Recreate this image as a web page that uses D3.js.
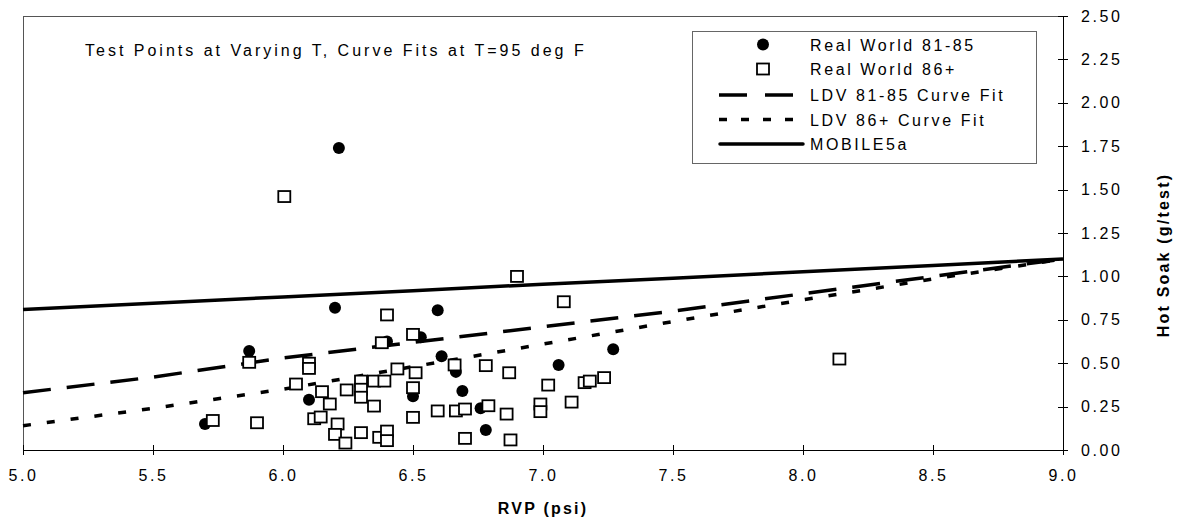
<!DOCTYPE html>
<html lang="en">
<head>
<meta charset="UTF-8">
<title>Hot Soak vs RVP</title>
<script src="https://d3js.org/d3.v7.min.js"></script>
<style>
    body { margin: 0; background: #fff; }
    svg { display: block; }
    text { font-family: "Liberation Sans", Arial, sans-serif; fill: #000; }
    .axis path, .axis line { fill: none; stroke: #000; stroke-width: 1; shape-rendering: crispEdges; }
    .axis text { font-size: 16px; letter-spacing: 2.6px; }
    .title { font-weight: bold; font-size: 16px; letter-spacing: 2.2px; }
</style>
</head>
<body>
<svg width="1177" height="527"></svg>
<script>
// real world 81-85 (filled circles)
const circleRvp  = [5.70, 5.87, 6.10, 6.20, 6.215, 6.40, 6.50, 6.53, 6.595, 6.61, 6.665, 6.69, 6.76, 6.78, 7.06, 7.27];
const circleSoak = [0.15, 0.57, 0.29, 0.82, 1.74, 0.625, 0.31, 0.65, 0.805, 0.54, 0.45, 0.34, 0.24, 0.115, 0.49, 0.58];

// real world 86+ (open squares)
const squareRvp  = [5.73, 5.87, 5.90, 6.005, 6.05, 6.10, 6.10, 6.12, 6.145, 6.15, 6.18, 6.21, 6.20, 6.24, 6.245,
                    6.30, 6.30, 6.30, 6.30, 6.35, 6.35, 6.37, 6.38, 6.39, 6.40, 6.40, 6.40, 6.44, 6.50, 6.51,
                    6.50, 6.50, 6.595, 6.66, 6.665, 6.70, 6.70, 6.78, 6.79, 6.86, 6.87, 6.875, 6.90, 6.99, 6.99,
                    7.02, 7.08, 7.11, 7.16, 7.18, 7.235, 8.14];
const squareSoak = [0.17, 0.505, 0.157, 1.46, 0.38, 0.50, 0.47, 0.18, 0.19, 0.336, 0.265, 0.15, 0.09, 0.04, 0.346,
                    0.397, 0.35, 0.304, 0.10, 0.397, 0.253, 0.073, 0.618, 0.397, 0.778, 0.109, 0.054, 0.467, 0.666, 0.445,
                    0.359, 0.188, 0.225, 0.49, 0.225, 0.236, 0.067, 0.486, 0.255, 0.207, 0.445, 0.058, 1.00, 0.265, 0.221,
                    0.374, 0.854, 0.276, 0.388, 0.397, 0.417, 0.524];

// curve fits at T=95 deg F
const curveRvp = [5.0, 5.5, 6.0, 6.5, 7.0, 7.5, 8.0, 8.5, 9.0];
const ldv8185  = [0.33, 0.42, 0.53, 0.62, 0.71, 0.80, 0.90, 1.00, 1.10];
const ldv86    = [0.14, 0.24, 0.35, 0.48, 0.61, 0.74, 0.865, 0.985, 1.10];
const mobile5a = [0.81, 0.846, 0.882, 0.918, 0.955, 0.99, 1.027, 1.063, 1.10];

const xTicks = [5.0, 5.5, 6.0, 6.5, 7.0, 7.5, 8.0, 8.5, 9.0];
const yTicks = [0, 0.25, 0.5, 0.75, 1.0, 1.25, 1.5, 1.75, 2.0, 2.25, 2.5];

const legendLabels = ["Real World 81-85", "Real World 86+", "LDV 81-85 Curve Fit", "LDV 86+ Curve Fit", "MOBILE5a"];

let margin = { top: 16, right: 114, bottom: 77, left: 23 };
let width = 1177 - margin.left - margin.right;
let height = 527 - margin.top - margin.bottom;

let svg = d3.select("svg")
    .append("g")
    .attr("transform", `translate(${margin.left},${margin.top})`);

let x = d3.scaleLinear().domain([5, 9]).range([0, width]);
let y = d3.scaleLinear().domain([0, 2.5]).range([height, 0]);

// plot area frame (top + left)
svg.append("path")
    .attr("d", `M0,${height}V0H${width}`)
    .attr("fill", "none")
    .attr("stroke", "#555")
    .attr("stroke-width", 1)
    .attr("shape-rendering", "crispEdges");

let gX = svg.append("g")
    .attr("class", "axis")
    .attr("transform", `translate(0,${height})`)
    .call(d3.axisBottom(x).tickValues(xTicks).tickFormat(d3.format(".1f")).tickSize(5).tickPadding(15));
gX.selectAll(".tick line").attr("y1", -5);

let gY = svg.append("g")
    .attr("class", "axis")
    .attr("transform", `translate(${width},0)`)
    .call(d3.axisRight(y).tickValues(yTicks).tickFormat(d3.format(".2f")).tickSize(5).tickPadding(13));
gY.selectAll(".tick line").attr("x1", -5);
gX.select(".domain").attr("d", `M0,0H${width}`);
gY.select(".domain").attr("d", `M0,0V${height}`);

// curves
const curves = [
    { vals: ldv8185, dash: "28,16", w: 3.5 },
    { vals: ldv86, dash: "8,16", w: 3.5 },
    { vals: mobile5a, dash: null, w: 3.5 }
];
let line = d3.line().x(d => x(d[0])).y(d => y(d[1]));
curves.forEach(c => {
    svg.append("path")
        .datum(curveRvp.map((r, i) => [r, c.vals[i]]))
        .attr("d", line)
        .attr("fill", "none")
        .attr("stroke", "#000")
        .attr("stroke-width", c.w)
        .attr("stroke-dasharray", c.dash);
});

// points
svg.append("g").selectAll("circle")
    .data(circleRvp.map((r, i) => [r, circleSoak[i]]))
    .join("circle")
    .attr("cx", d => x(d[0]))
    .attr("cy", d => y(d[1]))
    .attr("r", 6)
    .attr("fill", "#000");

svg.append("g").selectAll("rect")
    .data(squareRvp.map((r, i) => [r, squareSoak[i]]))
    .join("rect")
    .attr("x", d => x(d[0]) - 6)
    .attr("y", d => y(d[1]) - 5.5)
    .attr("width", 12)
    .attr("height", 11)
    .attr("fill", "#fff")
    .attr("stroke", "#000")
    .attr("stroke-width", 1.8);

// text box
svg.append("text")
    .attr("x", 85 - margin.left)
    .attr("y", 56 - margin.top)
    .attr("font-size", "16px")
    .attr("letter-spacing", "3px")
    .text("Test Points at Varying T, Curve Fits at T=95 deg F");

// legend
let legend = svg.append("g").attr("transform", `translate(${692 - margin.left},${31 - margin.top})`);
legend.append("rect")
    .attr("width", 344)
    .attr("height", 132)
    .attr("fill", "#fff")
    .attr("stroke", "#666")
    .attr("stroke-width", 1)
    .attr("shape-rendering", "crispEdges");

let rowY = [13.5, 38, 64, 88.5, 113];
legend.append("circle").attr("cx", 71).attr("cy", rowY[0]).attr("r", 6).attr("fill", "#000");
legend.append("rect").attr("x", 65).attr("y", rowY[1] - 5.5).attr("width", 12).attr("height", 11)
    .attr("fill", "#fff").attr("stroke", "#000").attr("stroke-width", 1.8);
legend.append("line").attr("x1", 27).attr("x2", 111).attr("y1", rowY[2]).attr("y2", rowY[2])
    .attr("stroke", "#000").attr("stroke-width", 3.5).attr("stroke-dasharray", "28,18");
legend.append("line").attr("x1", 27).attr("x2", 111).attr("y1", rowY[3]).attr("y2", rowY[3])
    .attr("stroke", "#000").attr("stroke-width", 3.5).attr("stroke-dasharray", "8,14");
legend.append("line").attr("x1", 28).attr("x2", 111).attr("y1", rowY[4]).attr("y2", rowY[4])
    .attr("stroke", "#000").attr("stroke-width", 3.5).attr("stroke-linecap", "round");

legend.selectAll(".lbl")
    .data(legendLabels)
    .join("text")
    .attr("class", "lbl")
    .attr("x", 118)
    .attr("y", (d, i) => rowY[i] + 6)
    .attr("font-size", "16px")
    .attr("letter-spacing", "2.6px")
    .text(d => d);

// axis titles
svg.append("text")
    .attr("class", "title")
    .attr("x", width / 2)
    .attr("y", height + 64)
    .attr("text-anchor", "middle")
    .text("RVP (psi)");

svg.append("text")
    .attr("class", "title")
    .attr("transform", `translate(${1169 - margin.left},${255 - margin.top}) rotate(-90)`)
    .attr("text-anchor", "middle")
    .text("Hot Soak (g/test)");
</script>
</body>
</html>
